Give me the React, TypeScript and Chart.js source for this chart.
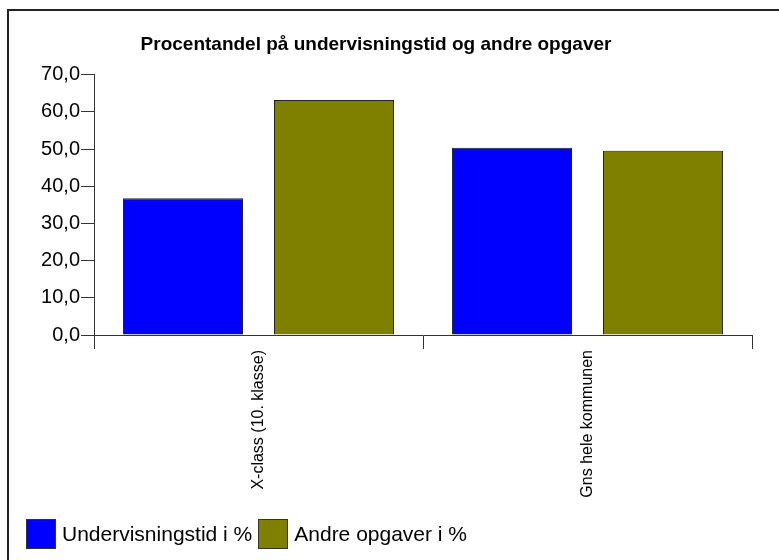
import React, { useEffect, useRef } from "react";
import { Chart, registerables } from "chart.js";

Chart.register(...registerables);

const categories = ["X-class (10. klasse)", "Gns hele kommunen"];
const seriesNames = ["Undervisningstid i %", "Andre opgaver i %"];
const undervisning = [36.8, 50.4];
const andre = [63.2, 49.6];
const seriesColors = ["#0000FF", "#808000"];
const yTicks = [0, 10, 20, 30, 40, 50, 60, 70];
const title = "Procentandel på undervisningstid og andre opgaver";

const FONT = "'Liberation Sans', Arial, Helvetica, sans-serif";

export default function App() {
  const ref = useRef<HTMLCanvasElement | null>(null);

  useEffect(() => {
    document.body.style.overflow = "hidden";
    const canvas = ref.current;
    if (!canvas) return;
    const chart = new Chart(canvas, {
      type: "bar",
      data: {
        labels: categories,
        datasets: [
          {
            label: seriesNames[0],
            data: undervisning,
            backgroundColor: seriesColors[0],
            borderColor: "#222222",
            borderWidth: 1,
            categoryPercentage: 0.918,
            barPercentage: 0.795,
          },
          {
            label: seriesNames[1],
            data: andre,
            backgroundColor: seriesColors[1],
            borderColor: "#222222",
            borderWidth: 1,
            categoryPercentage: 0.918,
            barPercentage: 0.795,
          },
        ],
      },
      options: {
        responsive: false,
        animation: false,
        devicePixelRatio: 1,
        layout: { padding: { left: 0, right: 27, top: 0, bottom: 25 } },
        plugins: {
          legend: { display: false },
          tooltip: { enabled: false },
          title: {
            display: true,
            text: title,
            color: "#000000",
            font: { family: FONT, size: 19, weight: "bold" },
            padding: { top: 33, bottom: 19 },
          },
        },
        scales: {
          x: {
            grid: {
              display: true,
              drawOnChartArea: false,
              drawTicks: true,
              tickLength: 14,
              color: "#333333",
              offset: true,
            },
            border: { display: true, color: "#333333" },
            ticks: {
              color: "#000000",
              font: { family: FONT, size: 16 },
              minRotation: 90,
              maxRotation: 90,
              padding: 1,
              autoSkip: false,
            },
            afterFit: (s: any) => {
              s.height = 200;
            },
          },
          y: {
            min: 0,
            max: 70,
            afterBuildTicks: (s: any) => {
              s.ticks = yTicks.map((v) => ({ value: v }));
            },
            grid: {
              display: true,
              drawOnChartArea: false,
              drawTicks: true,
              tickLength: 13,
              color: "#333333",
            },
            border: { display: true, color: "#333333" },
            ticks: {
              color: "#000000",
              font: { family: FONT, size: 20 },
              padding: 1,
              callback: (v: any) => Number(v).toFixed(1).replace(".", ","),
            },
            afterFit: (s: any) => {
              s.width = 94;
            },
          },
        },
      },
    });
    return () => chart.destroy();
  }, []);

  return (
    <div
      style={{
        position: "fixed",
        left: 0,
        top: 0,
        width: 779,
        height: 560,
        overflow: "hidden",
        background: "#ffffff",
      }}
    >
      <div
        style={{
          position: "absolute",
          left: 7,
          top: 9,
          width: 772,
          height: 2,
          background: "#222222",
        }}
      />
      <div
        style={{
          position: "absolute",
          left: 7,
          top: 9,
          width: 2,
          height: 551,
          background: "#222222",
        }}
      />
      <canvas
        ref={ref}
        width={779}
        height={560}
        style={{ position: "absolute", left: 0, top: 0, width: 779, height: 560 }}
      />
      <div
        style={{
          position: "absolute",
          left: 26,
          top: 519,
          height: 30,
          display: "flex",
          alignItems: "center",
          fontFamily: FONT,
          fontSize: 21,
          color: "#000000",
          whiteSpace: "nowrap",
        }}
      >
        {seriesNames.map((name, i) => (
          <div key={name} style={{ display: "flex", alignItems: "center", marginRight: 6 }}>
            <div
              style={{
                width: 28,
                height: 28,
                background: seriesColors[i],
                border: "1px solid #333333",
                marginRight: 6,
              }}
            />
            <span>{name}</span>
          </div>
        ))}
      </div>
    </div>
  );
}
